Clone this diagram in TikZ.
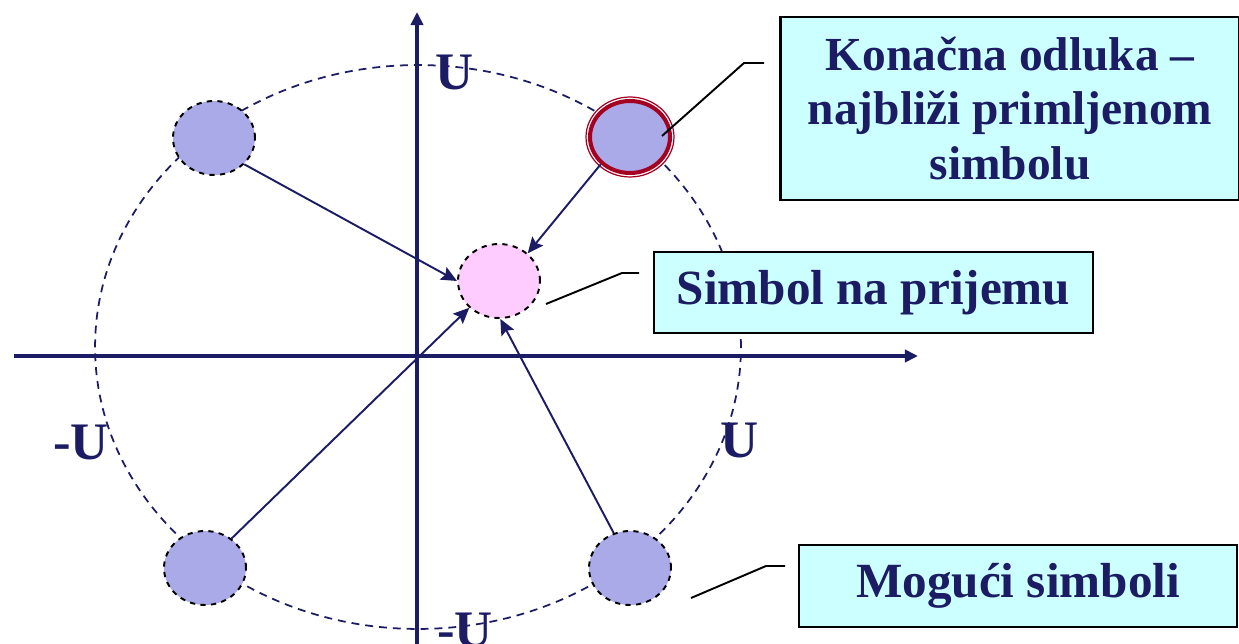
\documentclass[tikz,border=0pt]{standalone}
\usepackage{fontspec}
\setmainfont{Liberation Serif}
\usepackage{tikz}
\usetikzlibrary{arrows.meta,shapes.geometric}
\definecolor{navycol}{HTML}{1C1C64}
\definecolor{symcol}{HTML}{AAAAE8}
\definecolor{rxcol}{HTML}{FFCCFF}
\definecolor{boxcol}{HTML}{CCFFFF}
\definecolor{ringcol}{HTML}{A50021}

\begin{document}
\begin{tikzpicture}[x=0.02cm, y=-0.02cm, font=\bfseries,
  symb/.style={ellipse, draw=black, dashed, line width=1.1pt, fill=symcol,
    minimum width=1.64cm, minimum height=1.48cm, inner sep=0pt},
  infobox/.style={draw=black, line width=1.3pt, fill=boxcol, text=navycol,
    align=center, inner sep=0pt, font=\bfseries\fontsize{27}{31}\selectfont},
  lab/.style={text=navycol, inner sep=0pt, font=\bfseries\fontsize{30}{30}\selectfont},
  conn/.style={-{Stealth[length=9pt,width=8pt,inset=1.5pt]}, navycol, line width=1.1pt},
  callout/.style={black, line width=1.1pt}]

\useasboundingbox (0,0) rectangle (1239,644);

% ---------------------------------------------------------------- axes
\draw[navycol, line width=2pt, -{Triangle[length=7.5pt,width=7pt]}] (14,356) -- (918,356);
\draw[navycol, line width=2pt, -{Triangle[length=7.5pt,width=7pt]}] (417,644) -- (417,12);

% dashed circle of possible symbols
\draw[navycol, line width=1pt, dash pattern=on 4.5pt off 3.4pt]
  (418,347) ellipse [x radius=6.46cm, y radius=5.64cm];

% ------------------------------------------------------------ the symbols
\node[symb] (tl) at (214,138) {};
\node[symb] (bl) at (205,568) {};
\node[symb] (br) at (630,568) {};
\node[symb, fill=rxcol] (rx) at (499,281) {};
% chosen symbol, double red ring
\node[symb, solid, draw=ringcol, line width=2.3pt, minimum width=1.6cm,
  minimum height=1.44cm] (tr) at (630,137) {};
\draw[ringcol, line width=0.7pt] (tr.center) ellipse [x radius=0.88cm, y radius=0.80cm];

% distances to the received symbol
\draw[conn] (tl.-41) -- (rx.west);
\draw[conn] (tr.223) -- (rx.44);
\draw[conn] (bl.48) -- (rx.222);
\draw[conn] (br.115) -- (rx.-88);

% ---------------------------------------------------------- axis labels
\node[lab] (uy) at (455,72) {U};
\node[lab] (ux) at (740,440) {U};
\node[lab] (mux) at (81,442) {-U};
\node[lab] (muy) at (465,630) {-U};

% ------------------------------------------------------------ the boxes
\node[infobox, minimum width=9.18cm, minimum height=3.66cm] (dec) at (1010,108.5)
  {Konačna odluka –\\najbliži primljenom\\simbolu};
\node[infobox, font=\bfseries\fontsize{28}{31}\selectfont, minimum width=8.78cm,
  minimum height=1.62cm] (rxbox) at (873.5,292.5) {Simbol na prijemu};
\node[infobox, font=\bfseries\fontsize{28}{31}\selectfont, minimum width=8.76cm,
  minimum height=1.64cm] (allbox) at (1018,586) {Mogući simboli};

% callout lines
\coordinate (decA) at (662,136);
\coordinate (decB) at (744,63);
\coordinate (decC) at (764,63);
\draw[callout] (decA) -- (decB) -- (decC);
\coordinate (rxA) at (546,304);
\coordinate (rxB) at (622,273);
\coordinate (rxC) at (639,273);
\draw[callout] (rxA) -- (rxB) -- (rxC);
\coordinate (allA) at (691,598);
\coordinate (allB) at (766,566);
\coordinate (allC) at (785,566);
\draw[callout] (allA) -- (allB) -- (allC);

\end{tikzpicture}
\end{document}
